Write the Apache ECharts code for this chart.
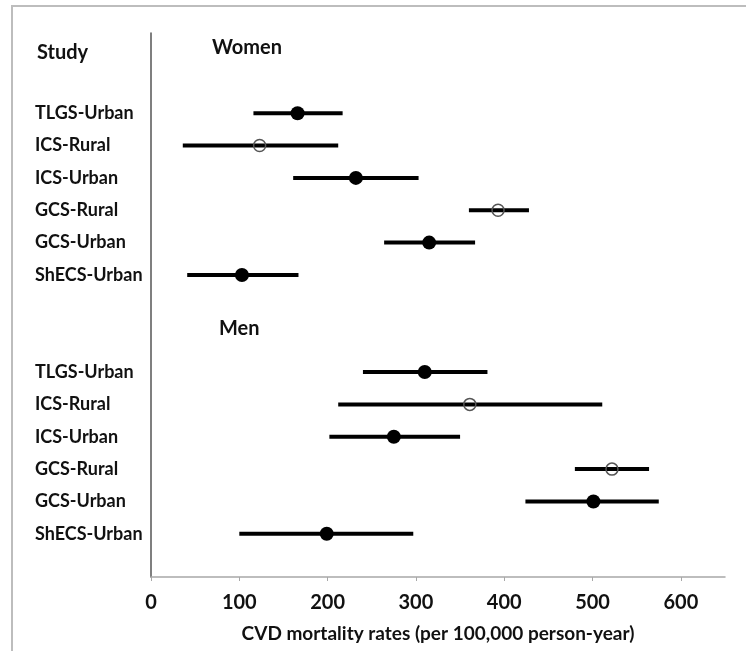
<!DOCTYPE html>
<html>
<head>
<meta charset="utf-8">
<script src="https://cdn.jsdelivr.net/npm/echarts@6/dist/echarts.min.js"></script>
<style>
html,body{margin:0;padding:0;background:#fff;}
#chart{width:746px;height:651px;}
</style>
</head>
<body>
<div id="chart"></div>
<script>
// ---- data ----
var studies = ['TLGS-Urban', 'ICS-Rural', 'ICS-Urban', 'GCS-Rural', 'GCS-Urban', 'ShECS-Urban'];
var isRural = [false, true, false, true, false, false];
var womenRate = [166, 123, 232, 393, 315, 103];
var womenLow  = [116, 36, 161, 360, 264, 41];
var womenHigh = [217, 212, 303, 428, 367, 167];
var menRate = [310, 361, 275, 522, 501, 199];
var menLow  = [240, 212, 202, 480, 424, 100];
var menHigh = [381, 511, 350, 564, 575, 297];
var xTicks = [0, 100, 200, 300, 400, 500, 600];
var xMax = 650;
var xTitle = 'CVD mortality rates (per 100,000 person-year)';

// ---- build rows ----
var rowLabels = studies.concat(['', '']).concat(studies);
var ranges = [], filled = [], open = [];
function addGroup(rate, low, high, offset) {
  for (var i = 0; i < studies.length; i++) {
    var idx = i + offset;
    ranges.push([low[i], high[i], idx]);
    if (isRural[i]) open.push([rate[i], idx]); else filled.push([rate[i], idx]);
  }
}
addGroup(womenRate, womenLow, womenHigh, 0);
addGroup(menRate, menLow, menHigh, studies.length + 2);

var font = 'Lato';
var chart = echarts.init(document.getElementById('chart'), null, {renderer: 'canvas'});
chart.setOption({
  animation: false,
  backgroundColor: '#fff',
  textStyle: {fontFamily: font},
  grid: [
    {left: 151, right: 21, top: 97, height: 453},
    {left: 151, right: 21, top: 33, bottom: 74}
  ],
  xAxis: [
    {gridIndex: 0, type: 'value', min: 0, max: xMax, show: false, splitLine: {show: false}},
    {gridIndex: 1, type: 'value', min: 0, max: xMax, interval: 100,
     name: xTitle, nameLocation: 'middle', nameGap: 47,
     nameTextStyle: {fontFamily: font, fontWeight: 'bold', fontSize: 19, color: '#111'},
     axisLine: {show: true, lineStyle: {color: '#a8a8a8', width: 1.5}},
     axisTick: {show: true, length: 4, customValues: xTicks, lineStyle: {color: '#a8a8a8'}},
     axisLabel: {customValues: xTicks, margin: 16, fontFamily: font, fontWeight: 'bold', fontSize: 20, color: '#111'},
     splitLine: {show: false}}
  ],
  yAxis: [
    {gridIndex: 0, type: 'category', data: rowLabels, inverse: true,
     axisLine: {show: false}, axisTick: {show: false},
     axisLabel: {align: 'left', margin: 116, fontFamily: font, fontWeight: 'bold', fontSize: 18, color: '#111', interval: 0},
     splitLine: {show: false}},
    {gridIndex: 1, type: 'value', min: 0, max: 1,
     axisLine: {show: true, lineStyle: {color: '#555', width: 1.5}},
     axisTick: {show: false}, axisLabel: {show: false}, splitLine: {show: false}}
  ],
  graphic: [
    {type: 'rect', shape: {x: 12, y: 6, width: 800, height: 800}, style: {fill: 'none', stroke: '#bdbdbd', lineWidth: 2}, silent: true, z: -1},
    {type: 'text', left: 37, top: 43, style: {text: 'Study', font: 'bold 20px Lato', fill: '#111'}},
    {type: 'text', left: 212, top: 38, style: {text: 'Women', font: 'bold 20px Lato', fill: '#111'}},
    {type: 'text', left: 219, top: 319, style: {text: 'Men', font: 'bold 20px Lato', fill: '#111'}}
  ],
  series: [
    {type: 'custom', xAxisIndex: 0, yAxisIndex: 0, data: ranges,
     encode: {x: [0, 1], y: 2},
     renderItem: function (params, api) {
       var p1 = api.coord([api.value(0), api.value(2)]);
       var p2 = api.coord([api.value(1), api.value(2)]);
       return {type: 'line', shape: {x1: p1[0], y1: p1[1], x2: p2[0], y2: p2[1]},
               style: {stroke: '#000', lineWidth: 4}};
     }, z: 2},
    {type: 'scatter', xAxisIndex: 0, yAxisIndex: 0, data: filled, symbol: 'circle', symbolSize: 14,
     itemStyle: {color: '#000', opacity: 1}, z: 3},
    {type: 'scatter', xAxisIndex: 0, yAxisIndex: 0, data: open, symbol: 'circle', symbolSize: 12,
     itemStyle: {color: 'rgba(255,255,255,0)', borderColor: '#555', borderWidth: 1.5, opacity: 1}, z: 3}
  ]
});
</script>
</body>
</html>
